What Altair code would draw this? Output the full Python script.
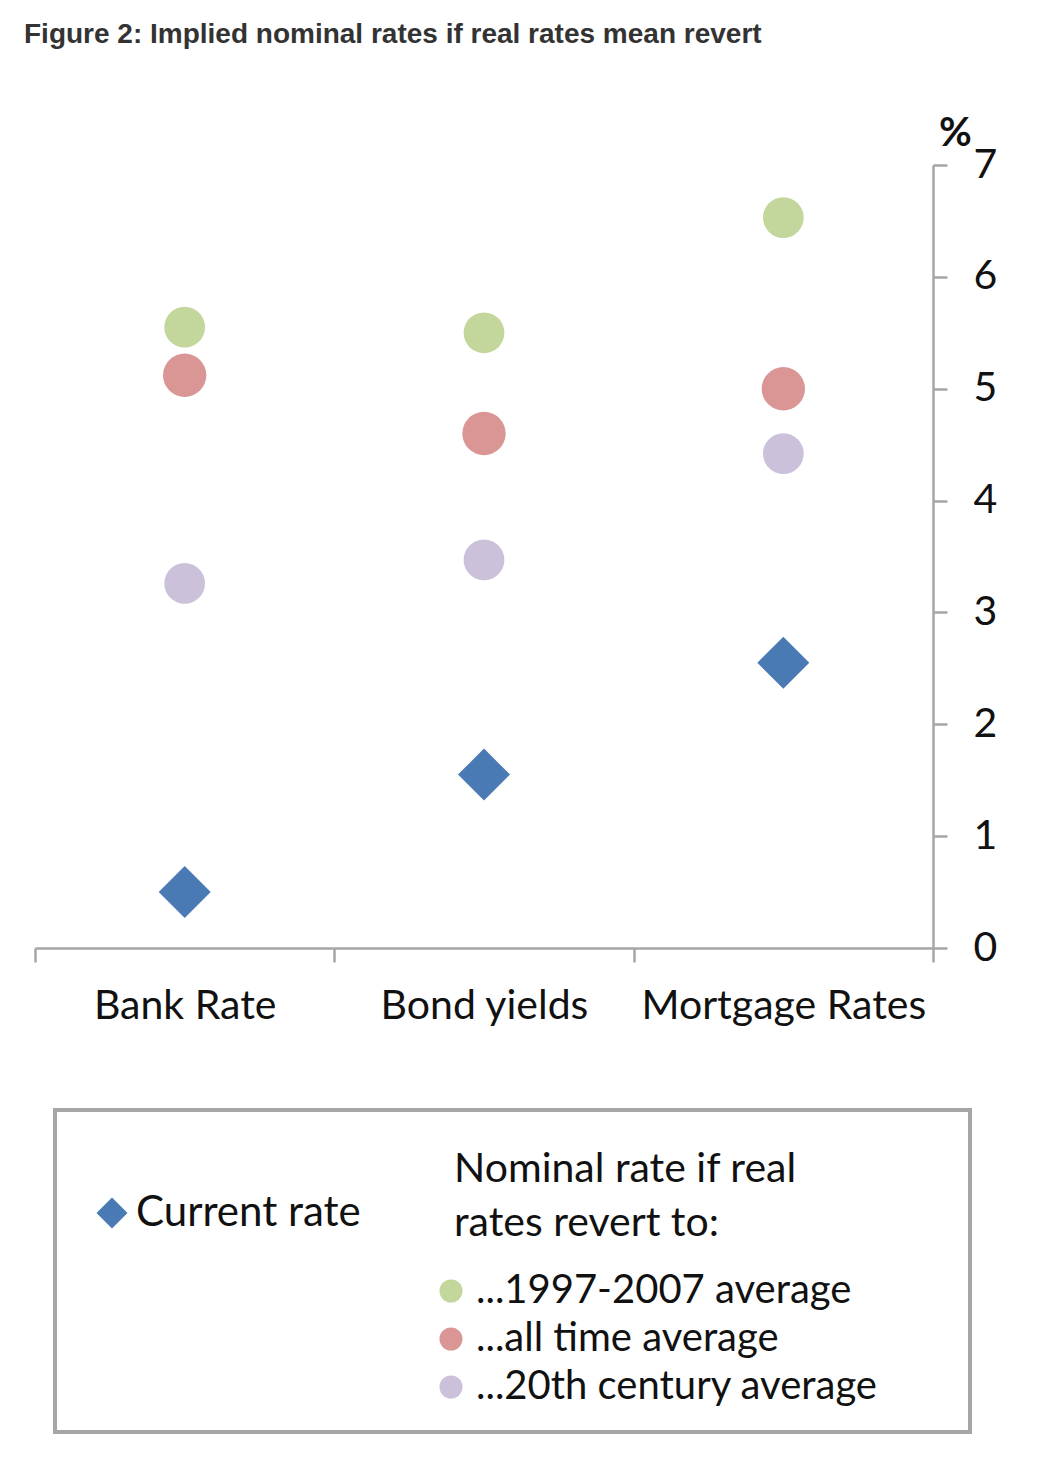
import altair as alt
import pandas as pd

categories = ["Bank Rate", "Bond yields", "Mortgage Rates"]
current_rate = [0.5, 1.55, 2.55]
avg_1997_2007 = [5.55, 5.5, 6.53]
avg_all_time = [5.12, 4.6, 5.0]
avg_20th_century = [3.26, 3.47, 4.42]

series_names = ["...1997-2007 average", "...all time average", "...20th century average"]
series_colors = ["#c3d69b", "#d99694", "#ccc1da"]
series_sizes = [1662, 1880, 1662]

rows = []
for name, vals, sz in zip(series_names, [avg_1997_2007, avg_all_time, avg_20th_century], series_sizes):
    for c, v in zip(categories, vals):
        rows.append({"category": c, "series": name, "value": v, "size": sz})
circles_df = pd.DataFrame(rows)
current_df = pd.DataFrame({"category": categories, "value": current_rate, "series": ["Current rate"] * 3})

FONT = "Lato"
AXIS_GRAY = "#a6a6a6"

x_enc = alt.X(
    "category:N",
    sort=categories,
    scale=alt.Scale(domain=categories, paddingInner=0, paddingOuter=0),
    axis=alt.Axis(
        title=None, labelAngle=0, tickBand="extent", tickSize=14, tickWidth=2.5,
        domainWidth=2.5, domainColor=AXIS_GRAY, tickColor=AXIS_GRAY,
        labelFont=FONT, labelFontSize=41, labelColor="#111111", labelPadding=24,
        labelLimit=600,
    ),
)
y_enc = alt.Y(
    "value:Q",
    scale=alt.Scale(domain=[0, 7], nice=False),
    axis=alt.Axis(
        orient="right", values=[0, 1, 2, 3, 4, 5, 6, 7], grid=False,
        tickSize=14, tickWidth=2.5, domainWidth=2.5, domainColor=AXIS_GRAY, tickColor=AXIS_GRAY,
        labelFont=FONT, labelFontSize=41, labelColor="#111111", labelPadding=26,
        title="%", titleAngle=0, titleFont=FONT, titleFontSize=40, titleFontWeight="bold",
        titleColor="#111111", titleX=22, titleY=-20, titleAlign="center", titleBaseline="alphabetic",
    ),
)

circles = alt.Chart(circles_df).mark_circle(opacity=1).encode(
    x=x_enc,
    y=y_enc,
    size=alt.Size("size:Q", scale=None, legend=None),
    color=alt.Color(
        "series:N",
        scale=alt.Scale(domain=series_names, range=series_colors),
        legend=alt.Legend(
            orient="none", legendX=419, legendY=985,
            title=["Nominal rate if real", "rates revert to:"],
            titleFont=FONT, titleFontSize=41, titleFontWeight="normal", titleColor="#111111",
            titleLineHeight=54, titlePadding=26, titleBaseline="top", titleLimit=800,
            labelFont=FONT, labelFontSize=40, labelColor="#111111", labelOffset=5,
            symbolType="circle", symbolSize=530, symbolOffset=-23, symbolStrokeWidth=0,
            rowPadding=8, padding=0, labelLimit=600,
        ),
    ),
)

diamonds = alt.Chart(current_df).mark_point(filled=True, opacity=1, size=2704, color="#4a7ab4").encode(
    x=x_enc,
    y=y_enc,
    shape=alt.Shape(
        "series:N",
        scale=alt.Scale(domain=["Current rate"], range=["diamond"]),
        legend=alt.Legend(
            orient="none", legendX=56, legendY=1027, title=None,
            labelFont=FONT, labelFontSize=42, labelColor="#111111", labelOffset=3,
            symbolSize=961, symbolFillColor="#4a7ab4", symbolStrokeWidth=0,
            padding=0, labelLimit=400,
        ),
    ),
)

box = alt.Chart(pd.DataFrame({"k": [0]})).mark_rect(
    fill="transparent", stroke=AXIS_GRAY, strokeWidth=4
).encode(
    x=alt.value(20), x2=alt.value(935), y=alt.value(945), y2=alt.value(1267)
)

chart = alt.layer(box, circles, diamonds).resolve_legend(color="independent", shape="independent").properties(
    width=898,
    height=783,
    background="white",
    autosize=alt.AutoSizeParams(type="none"),
    padding={"left": 27, "top": 157, "right": 99, "bottom": 500},
    title=alt.TitleParams(
        "Figure 2: Implied nominal rates if real rates mean revert",
        anchor="start", frame="group", font="Liberation Sans", fontSize=28, fontWeight="bold",
        color="#333333", dx=-11, offset=64,
    ),
).configure_view(stroke="transparent", strokeWidth=0)

chart.save("out.html", embed_options={"renderer": "svg", "actions": False})
